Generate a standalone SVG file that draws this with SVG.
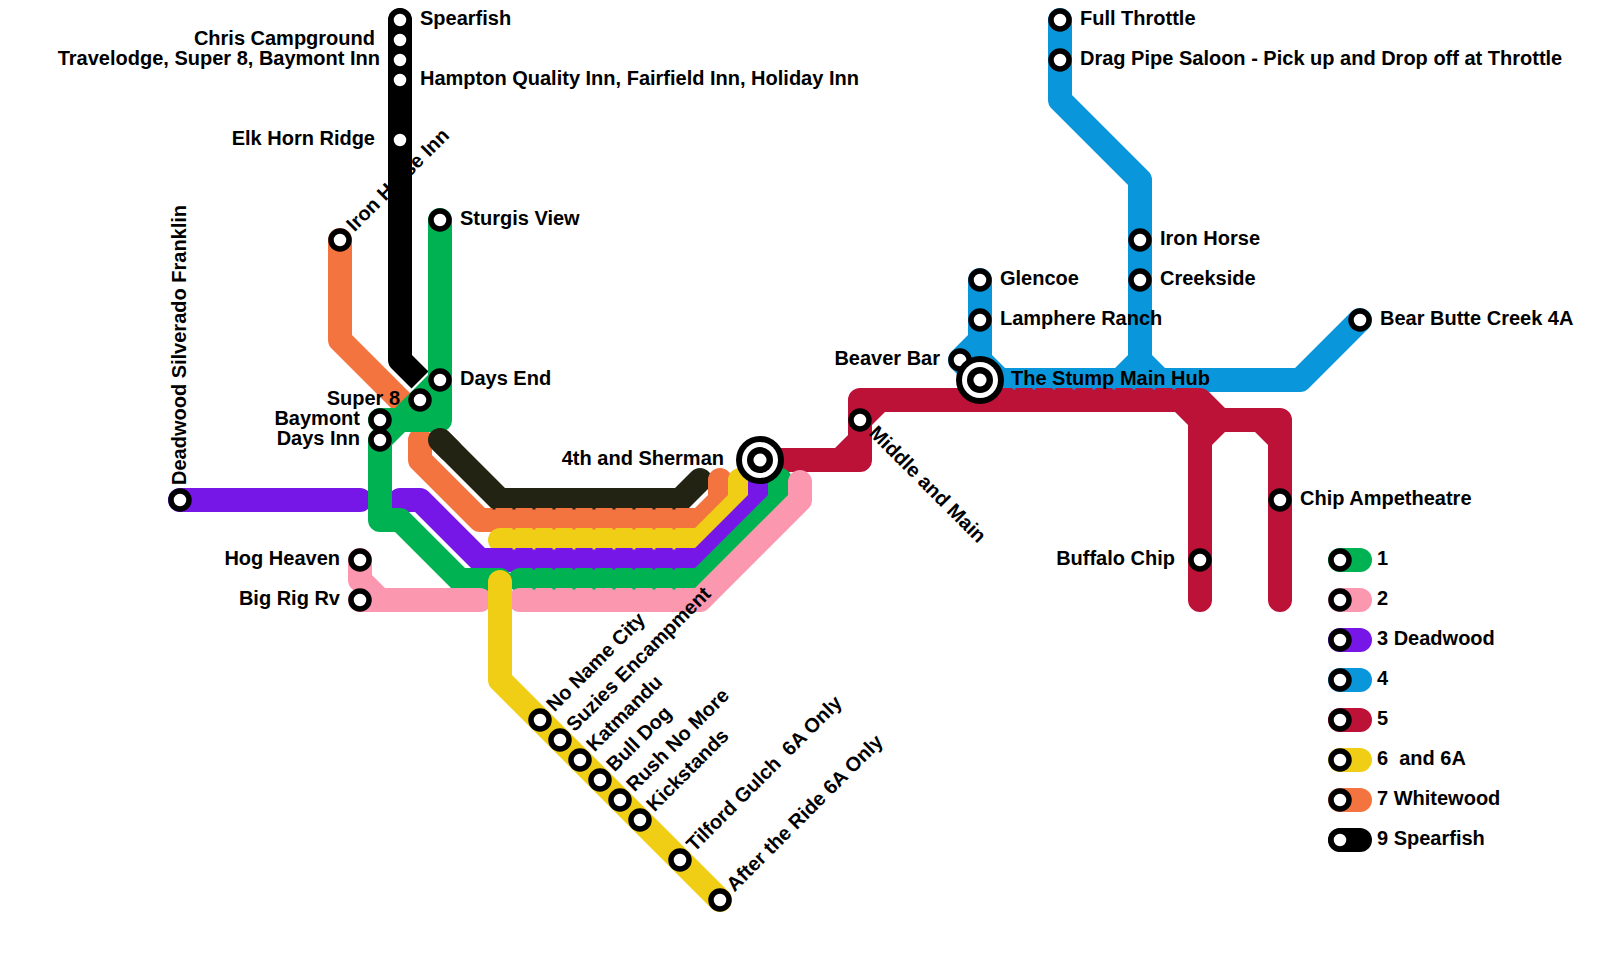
<svg xmlns="http://www.w3.org/2000/svg" width="1600" height="980" viewBox="0 0 1600 980">
<style>
.l{fill:none;stroke-width:24;stroke-linecap:round;stroke-linejoin:round}
.b{stroke-linecap:butt}
.n{fill:none;stroke-width:2;stroke-dasharray:3 17}
.c1{stroke:#00b251}.c2{stroke:#fc97b0}.c3{stroke:#7617e8}.c4{stroke:#0a96da}.c5{stroke:#bd1238}.c6{stroke:#f0ce15}.c7{stroke:#f4743f}.c9{stroke:#000}.c9b{stroke:#232314}
.s{fill:#fff;stroke:#000;stroke-width:5.5}
text{font-family:"Liberation Sans",Arial,sans-serif;font-weight:700;font-size:20px;fill:#000;white-space:pre}
.e{text-anchor:end}
</style>
<rect width="1600" height="980" fill="#fff"/>
<g id="connectors">
<path class="l c9 b" d="M400 32V360L420 380"/>
<path class="l c9" d="M400 20V40"/>
<path class="l c7 b" d="M340 240V340L420 420"/>
<path class="l c7" d="M340 240V250"/>
<path class="l c4" d="M1060 20V100L1140 180V360L1120 380M1140 360L1160 380M980 280V360L1000 380H1300L1360 320M980 340L960 360L980 380H1000"/>
<path class="l c5" d="M760 460H860V400H1180L1200 420V600M860 420L880 400M840 460L860 440M1180 400H1200L1220 420H1280V600M1200 440L1220 420M1260 420L1280 440"/>
<path class="n c4" d="M1012.5 388.5H1182"/>
<path class="l c9b" d="M440 440L500 500H680L700 480"/>
<path class="l c7" d="M420 440V460L480 520H700L720 500V480"/>
<path class="n c9b" d="M492.5 508.5H680"/>
<path class="l c6" d="M500 540H700L740 500V480"/>
<path class="n c7" d="M512.5 528.5H680"/>
<path class="l c3" d="M180 500H360"/>
<path class="l c3" d="M400 500H420L480 560H700L760 500V460"/>
<path class="n c6" d="M512.5 548.5H680"/>
<path class="l c1" d="M440 220V420H400L380 440V520H400L460 580H500M380 420H400L440 380"/>
<path class="l c9b" d="M440 440L450 450"/>
<path class="l c1" d="M520 580H700L780 500V480"/>
<path class="n c3" d="M532.5 568.5H680"/>
<path class="l c2" d="M360 560V580L380 600H480M360 600H380"/>
<path class="l c2" d="M520 600H700L800 500V482"/>
<path class="n c1" d="M532.5 588.5H680"/>
<path class="l c6" d="M500 582V680L720 900"/>
</g>
<g id="legend-lines">
<path class="l c1" d="M1340 560H1360"/><path class="l c2" d="M1340 600H1360"/><path class="l c3" d="M1340 640H1360"/><path class="l c4" d="M1340 680H1360"/><path class="l c5" d="M1340 720H1360"/><path class="l c6" d="M1340 760H1360"/><path class="l c7" d="M1340 800H1360"/><path class="l c9" d="M1340 840H1360"/>
</g>
<g id="n-spearfish"><circle class="s" cx="400" cy="20" r="9"/><text x="420" y="25">Spearfish</text></g>
<g id="n-chris"><circle class="s" cx="400" cy="40" r="9"/><text class="e" x="375" y="45">Chris Campground</text></g>
<g id="n-travelodge"><circle class="s" cx="400" cy="60" r="9"/><text class="e" x="380" y="65">Travelodge, Super 8, Baymont Inn</text></g>
<g id="n-hampton"><circle class="s" cx="400" cy="80" r="9"/><text x="420" y="85">Hampton Quality Inn, Fairfield Inn, Holiday Inn</text></g>
<g id="n-elkhorn"><circle class="s" cx="400" cy="140" r="9"/><text class="e" x="375" y="145">Elk Horn Ridge</text></g>
<g id="n-ironhorseinn"><circle class="s" cx="340" cy="240" r="9"/><text transform="translate(354.500 232.500) rotate(-45)">Iron Horse Inn</text></g>
<g id="n-sturgis"><circle class="s" cx="440" cy="220" r="9"/><text x="460" y="225">Sturgis View</text></g>
<g id="n-daysend"><circle class="s" cx="440" cy="380" r="9"/><text x="460" y="385">Days End</text></g>
<g id="n-super8"><circle class="s" cx="420" cy="400" r="9"/><text class="e" x="400" y="405">Super 8</text></g>
<g id="n-baymont"><circle class="s" cx="380" cy="420" r="9"/><text class="e" x="360" y="425">Baymont</text></g>
<g id="n-daysinn"><circle class="s" cx="380" cy="440" r="9"/><text class="e" x="360" y="445">Days Inn</text></g>
<g id="n-deadwood"><circle class="s" cx="180" cy="500" r="9"/><text transform="translate(185.500 485) rotate(-90)">Deadwood Silverado Franklin</text></g>
<g id="n-hogheaven"><circle class="s" cx="360" cy="560" r="9"/><text class="e" x="340" y="565">Hog Heaven</text></g>
<g id="n-bigrig"><circle class="s" cx="360" cy="600" r="9"/><text class="e" x="340" y="605">Big Rig Rv</text></g>
<g id="n-noname"><circle class="s" cx="540" cy="720" r="9"/><text transform="translate(554.500 712.500) rotate(-45)">No Name City</text></g>
<g id="n-suzies"><circle class="s" cx="560" cy="740" r="9"/><text transform="translate(574.500 732.500) rotate(-45)">Suzies Encampment</text></g>
<g id="n-katmandu"><circle class="s" cx="580" cy="760" r="9"/><text transform="translate(594.500 752.500) rotate(-45)">Katmandu</text></g>
<g id="n-bulldog"><circle class="s" cx="600" cy="780" r="9"/><text transform="translate(614.500 772.500) rotate(-45)">Bull Dog</text></g>
<g id="n-rush"><circle class="s" cx="620" cy="800" r="9"/><text transform="translate(634.500 792.500) rotate(-45)">Rush No More</text></g>
<g id="n-kickstands"><circle class="s" cx="640" cy="820" r="9"/><text transform="translate(654.500 812.500) rotate(-45)">Kickstands</text></g>
<g id="n-tilford"><circle class="s" cx="680" cy="860" r="9"/><text transform="translate(694.500 852.500) rotate(-45)">Tilford Gulch  6A Only</text></g>
<g id="n-aftertheride"><circle class="s" cx="720" cy="900" r="9"/><text transform="translate(734.500 892.500) rotate(-45)">After the Ride 6A Only</text></g>
<g id="n-4thsherman"><circle cx="760" cy="460" r="24" fill="#000"/><circle cx="760" cy="460" r="18" fill="#fff"/><circle cx="760" cy="460" r="13" fill="#000"/><circle cx="760" cy="460" r="6.500" fill="#fff"/><text class="e" x="724" y="465">4th and Sherman</text></g>
<g id="n-middlemain"><circle class="s" cx="860" cy="420" r="9"/><text transform="translate(868 434) rotate(45)">Middle and Main</text></g>
<g id="n-glencoe"><circle class="s" cx="980" cy="280" r="9"/><text x="1000" y="285">Glencoe</text></g>
<g id="n-lamphere"><circle class="s" cx="980" cy="320" r="9"/><text x="1000" y="325">Lamphere Ranch</text></g>
<g id="n-beaverbar"><circle class="s" cx="960" cy="360" r="9"/><text class="e" x="940" y="365">Beaver Bar</text></g>
<g id="n-stump"><circle cx="980" cy="380" r="24" fill="#000"/><circle cx="980" cy="380" r="18" fill="#fff"/><circle cx="980" cy="380" r="13" fill="#000"/><circle cx="980" cy="380" r="6.500" fill="#fff"/><text x="1011" y="385">The Stump Main Hub</text></g>
<g id="n-fullthrottle"><circle class="s" cx="1060" cy="20" r="9"/><text x="1080" y="25">Full Throttle</text></g>
<g id="n-dragpipe"><circle class="s" cx="1060" cy="60" r="9"/><text x="1080" y="65">Drag Pipe Saloon - Pick up and Drop off at Throttle</text></g>
<g id="n-ironhorse"><circle class="s" cx="1140" cy="240" r="9"/><text x="1160" y="245">Iron Horse</text></g>
<g id="n-creekside"><circle class="s" cx="1140" cy="280" r="9"/><text x="1160" y="285">Creekside</text></g>
<g id="n-bearbutte"><circle class="s" cx="1360" cy="320" r="9"/><text x="1380" y="325">Bear Butte Creek 4A</text></g>
<g id="n-buffalo"><circle class="s" cx="1200" cy="560" r="9"/><text class="e" x="1175" y="565">Buffalo Chip</text></g>
<g id="n-chipamp"><circle class="s" cx="1280" cy="500" r="9"/><text x="1300" y="505">Chip Ampetheatre</text></g>
<g id="legend-1"><circle class="s" cx="1340" cy="560" r="9"/><text x="1377" y="565">1</text></g>
<g id="legend-2"><circle class="s" cx="1340" cy="600" r="9"/><text x="1377" y="605">2</text></g>
<g id="legend-3"><circle class="s" cx="1340" cy="640" r="9"/><text x="1377" y="645">3 Deadwood</text></g>
<g id="legend-4"><circle class="s" cx="1340" cy="680" r="9"/><text x="1377" y="685">4</text></g>
<g id="legend-5"><circle class="s" cx="1340" cy="720" r="9"/><text x="1377" y="725">5</text></g>
<g id="legend-6"><circle class="s" cx="1340" cy="760" r="9"/><text x="1377" y="765">6  and 6A</text></g>
<g id="legend-7"><circle class="s" cx="1340" cy="800" r="9"/><text x="1377" y="805">7 Whitewood</text></g>
<g id="legend-9"><circle class="s" cx="1340" cy="840" r="9"/><text x="1377" y="845">9 Spearfish</text></g>
</svg>
